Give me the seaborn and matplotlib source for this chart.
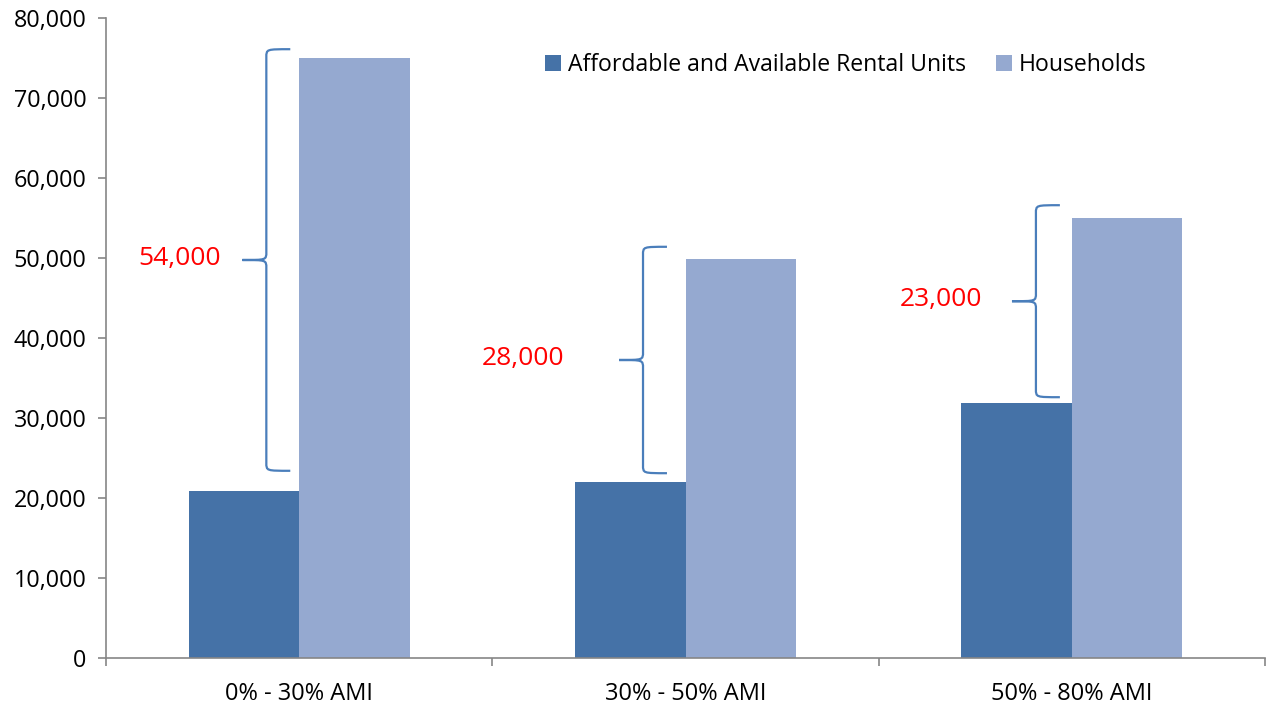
import pandas as pd
import matplotlib
matplotlib.use("Agg")
import matplotlib.pyplot as plt
import seaborn as sns
from matplotlib.path import Path
from matplotlib.patches import PathPatch
from matplotlib.ticker import FuncFormatter

# Chart data
bands = ["0% - 30% AMI", "30% - 50% AMI", "50% - 80% AMI"]
rental_units = [20900, 22000, 31900]
households = [75000, 49900, 55000]
gap_labels = ["54,000", "28,000", "23,000"]
series_names = ["Affordable and Available Rental Units", "Households"]

# brace annotation extents (value range each brace covers)
brace_bottoms = [23400, 23100, 32600]
brace_tops = [76100, 51400, 56600]

# Long format table for seaborn
df = pd.DataFrame({
    "band": bands * 2,
    "count": rental_units + households,
    "series": [series_names[0]] * 3 + [series_names[1]] * 3,
})

sns.set_style("white")
plt.rcParams["font.family"] = ["Open Sans", "DejaVu Sans"]
plt.rcParams["text.color"] = "black"
plt.rcParams["xtick.color"] = "black"
plt.rcParams["ytick.color"] = "black"

fig = plt.figure(figsize=(12.71, 7.06), dpi=100)
ax = fig.add_axes([0.0834, 0.068, 0.9119, 0.9065])

sns.barplot(data=df, x="band", y="count", hue="series",
            palette=["#4572A7", "#95A9D0"], width=0.572, saturation=1,
            edgecolor="none", ax=ax)

ax.set_xlim(-0.5, 2.5)
ax.set_ylim(0, 80000)
ax.set_yticks(range(0, 80001, 10000))
ax.yaxis.set_major_formatter(FuncFormatter(lambda v, p: f"{int(v):,}"))
ax.set_xlabel("")
ax.set_ylabel("")

# axis styling
for side in ["top", "right"]:
    ax.spines[side].set_visible(False)
for side in ["left", "bottom"]:
    ax.spines[side].set_color("#868686")
    ax.spines[side].set_linewidth(1.2)
ax.tick_params(axis="y", which="major", length=6, width=1.2, color="#868686",
               labelsize=16.8, labelcolor="black", pad=8, direction="out", left=True)
ax.tick_params(axis="x", which="major", length=0, labelsize=17,
               labelcolor="black", pad=17)
ax.set_xticks([-0.5, 0.5, 1.5, 2.5], minor=True)
ax.tick_params(axis="x", which="minor", length=6, width=1.2, color="#868686",
               direction="out", bottom=True)


def draw_brace(ax, x, bottom, top, w=0.062, r=1000, color="#4A7EBB"):
    mid = (bottom + top) / 2
    verts = [
        (x + w, top), (x, top), (x, top), (x, top - r),
        (x, mid + r),
        (x, mid), (x, mid), (x - w, mid),
        (x, mid), (x, mid), (x, mid - r),
        (x, bottom + r),
        (x, bottom), (x, bottom), (x + w, bottom),
    ]
    codes = [Path.MOVETO, Path.CURVE4, Path.CURVE4, Path.CURVE4,
             Path.LINETO,
             Path.CURVE4, Path.CURVE4, Path.CURVE4,
             Path.CURVE4, Path.CURVE4, Path.CURVE4,
             Path.LINETO,
             Path.CURVE4, Path.CURVE4, Path.CURVE4]
    ax.add_patch(PathPatch(Path(verts, codes), facecolor="none",
                           edgecolor=color, linewidth=1.6))
    return mid


# braces showing the gap between units and households
brace_offsets = [-0.085, -0.11, -0.093]
label_offsets = [-0.31, -0.42, -0.34]
for i in range(len(bands)):
    mid = draw_brace(ax, i + brace_offsets[i], brace_bottoms[i], brace_tops[i])
    ax.text(i + label_offsets[i], mid + 200, gap_labels[i], color="red",
            fontsize=19, ha="center", va="center")

handles, labels = ax.get_legend_handles_labels()
ax.legend(handles, labels, loc="center", bbox_to_anchor=(0.638, 0.927),
          ncol=2, frameon=False, fontsize=16.6, handlelength=0.7,
          handleheight=0.7, handletextpad=0.3, columnspacing=1.3)

plt.savefig("out.png", dpi=100)
